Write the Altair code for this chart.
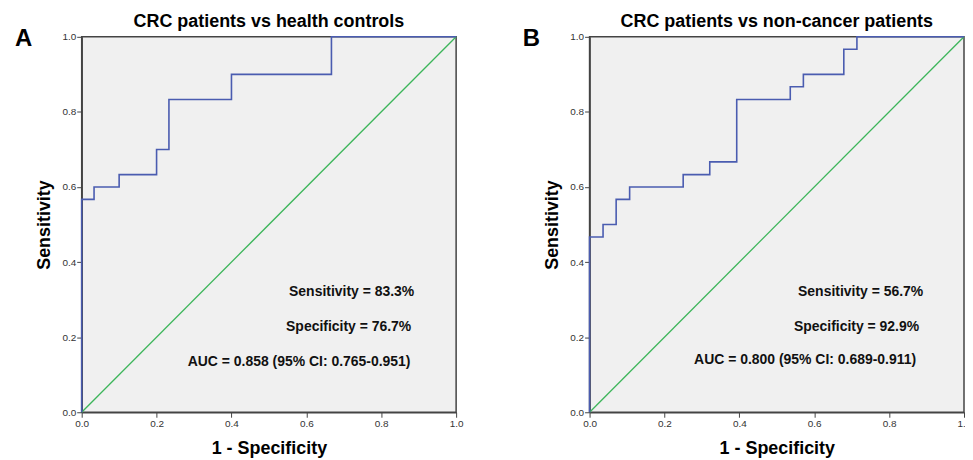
import altair as alt
import pandas as pd

# Panel A: CRC patients vs health controls
fpr_a = [0.0, 0.0, 0.033, 0.1, 0.2, 0.233, 0.4, 0.667, 1.0]
tpr_a = [0.0, 0.567, 0.6, 0.633, 0.7, 0.833, 0.9, 1.0, 1.0]
title_a = "CRC patients vs health controls"
notes_a = ["Sensitivity = 83.3%", "Specificity = 76.7%", "AUC = 0.858 (95% CI: 0.765-0.951)"]
note_x_a = [0.888, 0.880, 0.878]
note_y_a = [0.321, 0.228, 0.133]

# Panel B: CRC patients vs non-cancer patients
fpr_b = [0.0, 0.0, 0.036, 0.071, 0.107, 0.25, 0.321, 0.393, 0.536, 0.571, 0.679, 0.714, 1.0]
tpr_b = [0.0, 0.467, 0.5, 0.567, 0.6, 0.633, 0.667, 0.833, 0.867, 0.9, 0.967, 1.0, 1.0]
title_b = "CRC patients vs non-cancer patients"
notes_b = ["Sensitivity = 56.7%", "Specificity = 92.9%", "AUC = 0.800 (95% CI: 0.689-0.911)"]
note_x_b = [0.891, 0.880, 0.872]
note_y_b = [0.321, 0.228, 0.140]

diag_x = [0.0, 1.0]
diag_y = [0.0, 1.0]
ticks = [0.0, 0.2, 0.4, 0.6, 0.8, 1.0]

FONT = "Liberation Sans"
W, H = 376, 377
BLUE = "#4a5cb0"
GREEN = "#3cb55a"


def panel(fpr, tpr, title, notes, nx, ny, letter):
    curve = pd.DataFrame({"x": fpr, "y": tpr, "o": list(range(len(fpr)))})
    diag = pd.DataFrame({"x": diag_x, "y": diag_y})
    ann = pd.DataFrame({"x": nx, "y": ny, "t": notes})

    xs = alt.Scale(domain=[0, 1], nice=False, zero=False)
    ys = alt.Scale(domain=[0, 1], nice=False, zero=False)
    xaxis = alt.Axis(values=ticks, format=".1f", grid=False, tickSize=5,
                     tickColor="#444", domainColor="#444", domainWidth=1.5,
                     labelFontSize=10, labelColor="#333", labelFont=FONT,
                     labelPadding=1, labelFlush=False,
                     title="1 - Specificity", titleFontSize=18, titleFont=FONT,
                     titleFontWeight="bold", titleColor="#000",
                     titleY=41, titleBaseline="alphabetic")
    yaxis = alt.Axis(values=ticks, format=".1f", grid=False, tickSize=5,
                     tickColor="#444", domainColor="#444", domainWidth=1.5,
                     labelFontSize=10, labelColor="#333", labelFont=FONT,
                     labelPadding=1, labelFlush=False,
                     title="Sensitivity", titleFontSize=18, titleFont=FONT,
                     titleFontWeight="bold", titleColor="#000",
                     titleX=-32, titleY=H / 2, titleAngle=-90,
                     titleAlign="center", titleBaseline="alphabetic")

    base_curve = alt.Chart(curve).mark_line(
        color=BLUE, strokeWidth=1.6, interpolate="step-after"
    ).encode(
        x=alt.X("x:Q", scale=xs, axis=xaxis),
        y=alt.Y("y:Q", scale=ys, axis=yaxis),
        order="o:Q",
    )
    diag_line = alt.Chart(diag).mark_line(color=GREEN, strokeWidth=1.3).encode(
        x=alt.X("x:Q", scale=xs), y=alt.Y("y:Q", scale=ys)
    )
    text = alt.Chart(ann).mark_text(
        align="right", baseline="middle", fontSize=14, fontWeight="bold",
        font=FONT, color="#111"
    ).encode(x=alt.X("x:Q", scale=xs), y=alt.Y("y:Q", scale=ys), text="t:N")
    lab = alt.Chart(pd.DataFrame({"t": [letter]})).mark_text(
        align="left", baseline="middle", fontSize=24, fontWeight="bold",
        font=FONT, color="#000"
    ).encode(x=alt.value(-67), y=alt.value(2), text="t:N")

    return alt.layer(diag_line, base_curve, text, lab).properties(
        width=W, height=H,
        title=alt.TitleParams(title, fontSize=18, font=FONT, fontWeight="bold",
                              color="#000", anchor="middle", offset=-4),
    )


pa = panel(fpr_a, tpr_a, title_a, notes_a, note_x_a, note_y_a, "A")
pb = panel(fpr_b, tpr_b, title_b, notes_b, note_x_b, note_y_b, "B")

chart = alt.hconcat(pa, pb, spacing=58).properties(
    padding={"left": 6, "top": 3, "right": -7, "bottom": 0},
    background="white",
).configure_view(
    stroke="#444", strokeWidth=1.5, fill="#f0f0f0"
)

chart.save("out.html", embed_options={"renderer": "svg", "actions": False})
